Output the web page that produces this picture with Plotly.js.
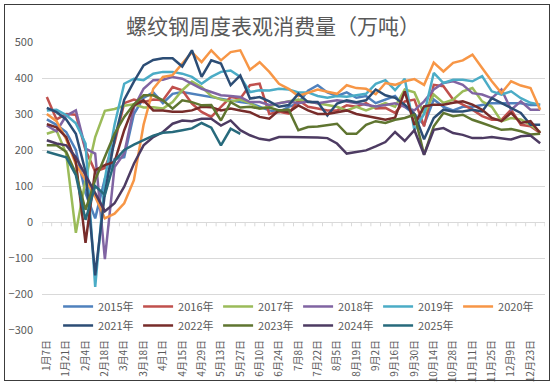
<!DOCTYPE html>
<html>
<head>
<meta charset="utf-8">
<script src="https://cdn.plot.ly/plotly-3.0.1.min.js"></script>
<style>
  html, body { margin: 0; padding: 0; background: #ffffff; }
  #wrap { position: relative; width: 554px; height: 386px; }
  #chart { width: 554px; height: 386px; }
  #frame { position: absolute; left: 4px; top: 4px; width: 544px; height: 375px;
           border: 1.5px solid #3c3c3c; pointer-events: none; }
</style>
</head>
<body>
<div id="wrap"><div id="chart"></div><div id="frame"></div></div>
<script>
// Week categories (labels shown every other week)
const weeks = ['1月7日','1月14日','1月21日','1月28日','2月4日','2月11日','2月18日','2月25日',
  '3月4日','3月11日','3月18日','3月25日','4月1日','4月8日','4月15日','4月22日','4月29日',
  '5月6日','5月13日','5月20日','5月27日','6月3日','6月10日','6月17日','6月24日',
  '7月1日','7月8日','7月15日','7月22日','7月29日','8月5日','8月12日','8月19日','8月26日',
  '9月2日','9月9日','9月16日','9月23日','9月30日','10月7日','10月14日','10月21日','10月28日',
  '11月4日','11月11日','11月18日','11月25日','12月2日','12月9日','12月16日','12月23日','12月30日'];

const seriesNames = ['2015年','2016年','2017年','2018年','2019年','2020年','2021年','2022年','2023年','2024年','2025年'];

const y2015 = [285,270,250,200,80,10,120,175,180,300,345,360,330,356,361,356,352,347,342,338,333,330,320,310,305,320,330,365,380,360,350,360,345,350,330,340,350,320,300,270,340,320,310,320,320,325,330,330,330,330,325,325];
const y2016 = [347,285,300,298,200,140,150,220,330,340,333,340,338,375,366,329,306,292,320,347,343,380,384,300,306,301,338,320,315,310,310,324,320,330,315,317,303,335,340,266,381,377,340,326,312,294,284,284,312,270,266,247];
const y2017 = [245,254,190,-30,117,236,309,314,323,327,318,319,315,333,366,390,375,350,340,335,340,330,315,320,330,335,340,335,330,325,320,310,320,310,320,330,320,368,360,300,354,331,340,363,372,335,320,280,289,285,270,250];
const y2018 = [268,252,295,310,204,190,-103,153,190,318,370,394,395,403,398,384,370,361,352,350,347,333,333,325,330,335,330,335,330,335,338,335,330,325,321,325,330,320,310,335,368,386,391,381,358,354,344,368,312,335,312,312];
const y2019 = [310,312,297,274,218,-180,120,270,384,398,394,412,417,417,412,403,384,403,417,421,403,361,366,365,370,368,360,360,350,345,350,348,352,356,384,394,366,398,255,300,414,386,395,395,391,405,363,354,363,344,331,326];
const y2020 = [300,280,230,160,117,70,10,23,52,116,270,370,403,408,440,472,444,477,449,472,477,423,444,417,384,370,350,360,368,362,356,380,372,370,355,386,381,391,397,381,443,418,442,449,465,428,391,358,391,379,372,312];
const y2021 = [317,305,285,245,140,-148,80,230,340,390,435,450,455,455,432,477,403,449,440,380,407,343,347,335,320,325,356,333,333,296,329,338,333,338,368,352,345,326,300,230,289,312,307,307,312,307,344,331,317,303,270,270];
const y2022 = [272,263,236,167,-58,144,158,167,255,324,338,310,310,306,306,310,320,319,310,315,310,305,292,287,310,305,324,310,300,300,305,310,300,295,289,284,290,363,270,321,326,326,331,335,326,312,289,280,303,275,280,247];
const y2023 = [213,213,195,135,34,117,181,245,292,327,352,352,338,315,338,333,324,325,282,333,318,320,315,318,310,312,255,264,265,268,273,245,245,270,280,275,284,289,298,187,266,303,294,298,284,275,266,256,258,252,243,245];
const y2024 = [227,218,213,180,130,80,30,52,98,162,213,236,250,273,282,280,287,287,268,282,255,241,231,227,236,236,236,236,235,233,218,190,195,199,210,222,250,225,255,187,256,261,247,242,233,233,236,233,229,238,240,219];
const y2025 = [195,188,180,130,6,100,75,170,200,215,228,240,248,250,255,260,275,262,213,259,245];

const seriesValues = [y2015,y2016,y2017,y2018,y2019,y2020,y2021,y2022,y2023,y2024,y2025];
const seriesColors = ['#4F81BD','#C0504D','#9BBB59','#8064A2','#4BACC6','#F79646',
                      '#2C4D75','#772C2A','#5F7530','#4D3B62','#276A7C'];

const tickWeeks = weeks.filter((w, i) => i % 2 === 0);

const FONT = '"Noto Sans CJK SC", "Noto Sans", sans-serif';
const GREY = '#595959';

const traces = seriesNames.map((name, k) => ({
  type: 'scatter',
  mode: 'lines',
  name: name,
  x: weeks.slice(0, seriesValues[k].length),
  y: seriesValues[k],
  line: { color: seriesColors[k], width: 2.5 },
  hoverinfo: 'x+y+name'
}));

// small tick marks hanging from the zero line at category boundaries
const shapes = [];
for (let k = 0; k <= weeks.length; k++) {
  shapes.push({ type: 'line', xref: 'x', yref: 'y', x0: k - 0.5, x1: k - 0.5, y0: 0, y1: -12,
                line: { color: '#d9d9d9', width: 1 }, layer: 'below' });
}

const layout = {
  width: 554, height: 386,
  margin: { l: 42, r: 9, t: 42, b: 56 },
  paper_bgcolor: '#ffffff', plot_bgcolor: '#ffffff',
  font: { family: FONT, color: GREY, size: 11 },
  title: {
    text: '螺纹钢周度表观消费量（万吨）',
    font: { family: FONT, size: 21, color: GREY },
    x: 0.493, xref: 'container', xanchor: 'center',
    y: 0.93, yref: 'container', yanchor: 'middle'
  },
  xaxis: {
    type: 'category', categoryorder: 'array', categoryarray: weeks,
    range: [-0.5, weeks.length - 0.5],
    tickmode: 'array', tickvals: tickWeeks, ticktext: tickWeeks,
    tickangle: -90, tickfont: { family: FONT, size: 10, color: GREY },
    showgrid: false, zeroline: false, showline: false, ticks: '',
    ticklabelstandoff: 7
  },
  yaxis: {
    range: [-300, 500], dtick: 100, tick0: 0,
    showgrid: true, gridcolor: '#d9d9d9', gridwidth: 1,
    zeroline: false, showline: false, ticks: '',
    tickfont: { family: FONT, size: 11, color: GREY },
    ticklabelstandoff: 8
  },
  legend: {
    orientation: 'h', x: 0.032, xanchor: 'left', y: 0.132, yanchor: 'top',
    bgcolor: 'rgba(0,0,0,0)', font: { family: FONT, size: 11, color: GREY },
    entrywidth: 35, entrywidthmode: 'pixels', tracegroupgap: 0
  },
  shapes: shapes,
  showlegend: true
};

Plotly.newPlot('chart', traces, layout, { displayModeBar: false, staticPlot: true });
</script>
</body>
</html>
